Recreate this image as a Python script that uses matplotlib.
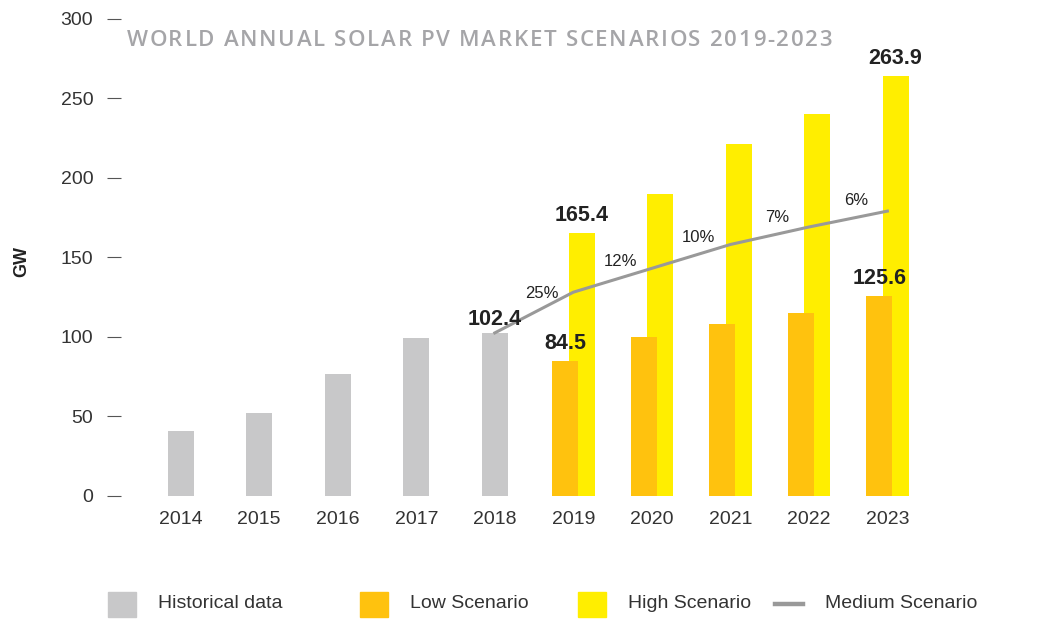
import matplotlib.pyplot as plt
from matplotlib.patches import Rectangle
from matplotlib.lines import Line2D

# Données (GW)
years = ["2014", "2015", "2016", "2017", "2018", "2019", "2020", "2021", "2022", "2023"]
historical = [40.8, 52, 76.6, 99, 102.4]
low_scenario = [84.5, 100, 108, 115, 125.6]
high_scenario = [165.4, 190, 221, 240, 263.9]
medium_scenario = [102.4, 128, 143, 158, 169, 179]
growth_labels = ["25%", "12%", "10%", "7%", "6%"]
title = "WORLD ANNUAL SOLAR PV MARKET SCENARIOS 2019-2023"
legend_labels = ["Historical data", "Low Scenario", "High Scenario", "Medium Scenario"]

plt.rcParams["font.family"] = ["Liberation Sans", "DejaVu Sans"]

grey = "#c8c8c9"
orange = "#ffc20e"
yellow = "#ffee00"
line_grey = "#999999"

W, H = 1039, 637
fig = plt.figure(figsize=(W / 100, H / 100), dpi=100)
ax = fig.add_axes([0.1165, 0.2218, 0.795, 0.7488])

x_all = list(range(len(years)))
x_hist = x_all[:5]
x_fut = x_all[5:]
w = 0.33
off = 0.105

ax.bar(x_hist, historical, width=w, color=grey)
ax.bar([x + off for x in x_fut], high_scenario, width=w, color=yellow)
ax.bar([x - off for x in x_fut], low_scenario, width=w, color=orange)
ax.plot(x_all[4:], medium_scenario, color=line_grey, lw=2.2, zorder=3)

# Étiquettes de valeurs
lab = dict(ha="center", va="bottom", fontsize=15.5, fontweight="bold", color="#222222",
           textcoords="offset points")
ax.annotate(f"{historical[-1]}", (x_hist[-1], historical[-1]), xytext=(0, 2), **lab)
ax.annotate(f"{low_scenario[0]}", (x_fut[0] - off, low_scenario[0]), xytext=(0, 5), **lab)
ax.annotate(f"{low_scenario[-1]}", (x_fut[-1] - off, low_scenario[-1]), xytext=(0, 5), **lab)
ax.annotate(f"{high_scenario[0]}", (x_fut[0] + off, high_scenario[0]), xytext=(0, 5), **lab)
ax.annotate(f"{high_scenario[-1]}", (x_fut[-1] + off, high_scenario[-1]), xytext=(0, 5), **lab)

# Taux de croissance du scénario moyen
for i, txt in enumerate(growth_labels):
    xm = x_all[4 + i] + 0.5 + 0.1
    ym = (medium_scenario[i] + medium_scenario[i + 1]) / 2
    ax.annotate(txt, (xm, ym), xytext=(0, 8), textcoords="offset points",
                ha="center", va="bottom", fontsize=12, color="#222222")

ax.set_xlim(-0.76, 9.76)
ax.set_ylim(0, 300)
ax.set_xticks(x_all)
ax.set_xticklabels(years)
ax.set_yticks(range(0, 301, 50))
for s in ax.spines.values():
    s.set_visible(False)
ax.tick_params(axis="x", length=0, pad=11, labelsize=14, labelcolor="#333333")
ax.tick_params(axis="y", length=10, width=0.8, color="#555555", pad=10,
               labelsize=14, labelcolor="#333333")
ax.set_ylabel("GW", fontsize=13, fontweight="bold", color="#222222")
ax.yaxis.set_label_coords(-0.11, 0.49)

# Titre avec espacement des lettres
renderer = fig.canvas.get_renderer()
tprops = dict(fontsize=16, color="#a5a5a8", family="Open Sans", fontweight="semibold")


def text_w(s):
    t = fig.text(0, 0, s, **tprops)
    wd = t.get_window_extent(renderer).width
    t.remove()
    return wd


x_start, x_end, y_title = 127, 832, 1 - 41 / H
sentinel = text_w("X")
adv = [text_w(title[:i] + "X") - sentinel for i in range(len(title))]
natural = text_w(title)
track = (x_end - x_start - natural) / (len(title) - 1)
for i, ch in enumerate(title):
    if ch != " ":
        fig.text((x_start + adv[i] + i * track) / W, y_title, ch, ha="left", va="center", **tprops)

# Légende dessinée à la main (positions en pixels)
leg_x = [108, 360, 578, 775]
leg_y = 604
for k, (lx, txt) in enumerate(zip(leg_x, legend_labels)):
    if k < 3:
        fig.add_artist(Rectangle((lx / W, 1 - 617 / H), 28 / W, 25 / H,
                                 color=[grey, orange, yellow][k], transform=fig.transFigure))
    else:
        fig.add_artist(Line2D([lx / W, (lx + 28) / W], [1 - leg_y / H] * 2, color=line_grey,
                              lw=3.2, transform=fig.transFigure))
    fig.text((lx + 50) / W, 1 - leg_y / H, txt, fontsize=14, color="#333333",
             ha="left", va="center")

fig.savefig("out.png", dpi=100)
